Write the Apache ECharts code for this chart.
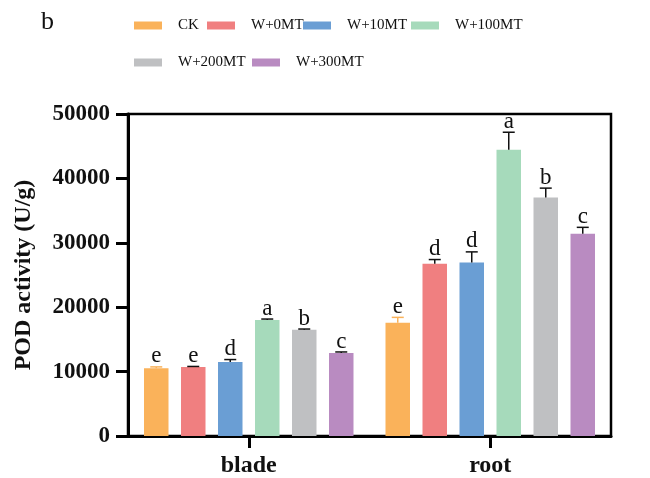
<!DOCTYPE html>
<html>
<head>
<meta charset="utf-8">
<script src="https://cdn.jsdelivr.net/npm/echarts@6/dist/echarts.min.js"></script>
<style>
    html, body { margin: 0; padding: 0; background: #fff; }
    #chart { width: 650px; height: 478px; }
</style>
</head>
<body>
<div id="chart"></div>
<script>
    // 数据
    var categories = ['blade', 'root'];
    var seriesNames = ['CK', 'W+0MT', 'W+10MT', 'W+100MT', 'W+200MT', 'W+300MT'];
    var colors = ['#FAB25A', '#F07F80', '#6A9ED4', '#A6DABB', '#BFC0C2', '#B98BC1'];
    var errColors = ['#FAB25A', '#111', '#111', '#111', '#111', '#111'];

    var valCK     = [10530, 17600];
    var valW0     = [10730, 26730];
    var valW10    = [11500, 26930];
    var valW100   = [18000, 44430];
    var valW200   = [16510, 37040];
    var valW300   = [12900, 31420];
    var errCK     = [200, 820];
    var errW0     = [70, 670];
    var errW10    = [370, 1660];
    var errW100   = [160, 2740];
    var errW200   = [100, 1450];
    var errW300   = [150, 980];
    var letCK     = ['e', 'e'];
    var letW0     = ['e', 'd'];
    var letW10    = ['d', 'd'];
    var letW100   = ['a', 'a'];
    var letW200   = ['b', 'b'];
    var letW300   = ['c', 'c'];

    var yTicks = [0, 10000, 20000, 30000, 40000, 50000];

    var values = [valCK, valW0, valW10, valW100, valW200, valW300];
    var errors = [errCK, errW0, errW10, errW100, errW200, errW300];
    var letters = [letCK, letW0, letW10, letW100, letW200, letW300];

    var BAR_W = 24.5, BAR_GAP = 12.5;
    var serif = 'Liberation Serif';

    var chart = echarts.init(document.getElementById('chart'));

    var series = [];
    var legends = [];
    // 图例位置（两行）
    var legendPos = [[134, 18], [207, 18], [303, 18], [411, 18], [134, 55], [252, 55]];

    for (var i = 0; i < seriesNames.length; i++) {
        series.push({
            name: seriesNames[i],
            type: 'bar',
            barWidth: BAR_W,
            barGap: (BAR_GAP / BAR_W * 100) + '%',
            itemStyle: { color: colors[i] },
            data: values[i],
            z: 2
        });
        (function(idx){
            series.push({
                name: seriesNames[idx] + '_err',
                type: 'custom',
                z: 3,
                data: categories.map(function(c, k){ return [k, values[idx][k], errors[idx][k]]; }),
                renderItem: function(params, api){
                    var k = api.value(0);
                    var top = api.coord([k, api.value(1) + api.value(2)]);
                    var base = api.coord([k, api.value(1)]);
                    var x = base[0] + (idx - 2.5) * (BAR_W + BAR_GAP);
                    var st = { stroke: errColors[idx], lineWidth: 1.5 };
                    return {
                        type: 'group',
                        children: [
                            { type: 'line', shape: { x1: x, y1: base[1], x2: x, y2: top[1] }, style: st },
                            { type: 'line', shape: { x1: x - 6, y1: top[1], x2: x + 6, y2: top[1] }, style: st },
                            { type: 'text', x: x, y: top[1] + 1,
                              style: { text: letters[idx][k], fill: '#111', font: '23px ' + serif,
                                       textAlign: 'center', textVerticalAlign: 'bottom' } }
                        ]
                    };
                }
            });
        })(i);
        legends.push({
            data: [seriesNames[i]],
            left: legendPos[i][0],
            top: legendPos[i][1],
            itemWidth: 28,
            itemHeight: 8,
            icon: 'rect',
            padding: 0,
            textStyle: { fontFamily: serif, fontSize: 15, color: '#111', padding: [0, 0, 0, 11] }
        });
    }

    var option = {
        backgroundColor: '#fff',
        animation: false,
        title: {
            text: 'b',
            left: 36,
            top: 4,
            textStyle: { fontFamily: serif, fontSize: 26, fontWeight: 'normal', color: '#111' }
        },
        legend: legends,
        grid: {
            left: 128, right: 39, top: 114, bottom: 41,
            show: true, borderColor: '#000', borderWidth: 2.5
        },
        xAxis: {
            type: 'category',
            data: categories,
            axisLine: { lineStyle: { color: '#000', width: 3 } },
            axisTick: { show: true, alignWithLabel: true, length: 12, lineStyle: { color: '#000', width: 3 } },
            axisLabel: { fontFamily: serif, fontWeight: 'bold', fontSize: 24, color: '#111', margin: 18 }
        },
        yAxis: {
            type: 'value',
            min: yTicks[0],
            max: yTicks[yTicks.length - 1],
            interval: yTicks[1] - yTicks[0],
            name: 'POD activity (U/g)',
            nameLocation: 'middle',
            nameGap: 92,
            nameTextStyle: { fontFamily: serif, fontWeight: 'bold', fontSize: 24, color: '#111' },
            axisLine: { show: true, lineStyle: { color: '#000', width: 3 } },
            axisTick: { show: true, length: 12, lineStyle: { color: '#000', width: 3 } },
            splitLine: { show: false },
            axisLabel: { fontFamily: serif, fontWeight: 'bold', fontSize: 23, color: '#111', margin: 18,
                         formatter: function(v){ return String(v); } }
        },
        series: series
    };
    chart.setOption(option);
</script>
</body>
</html>
